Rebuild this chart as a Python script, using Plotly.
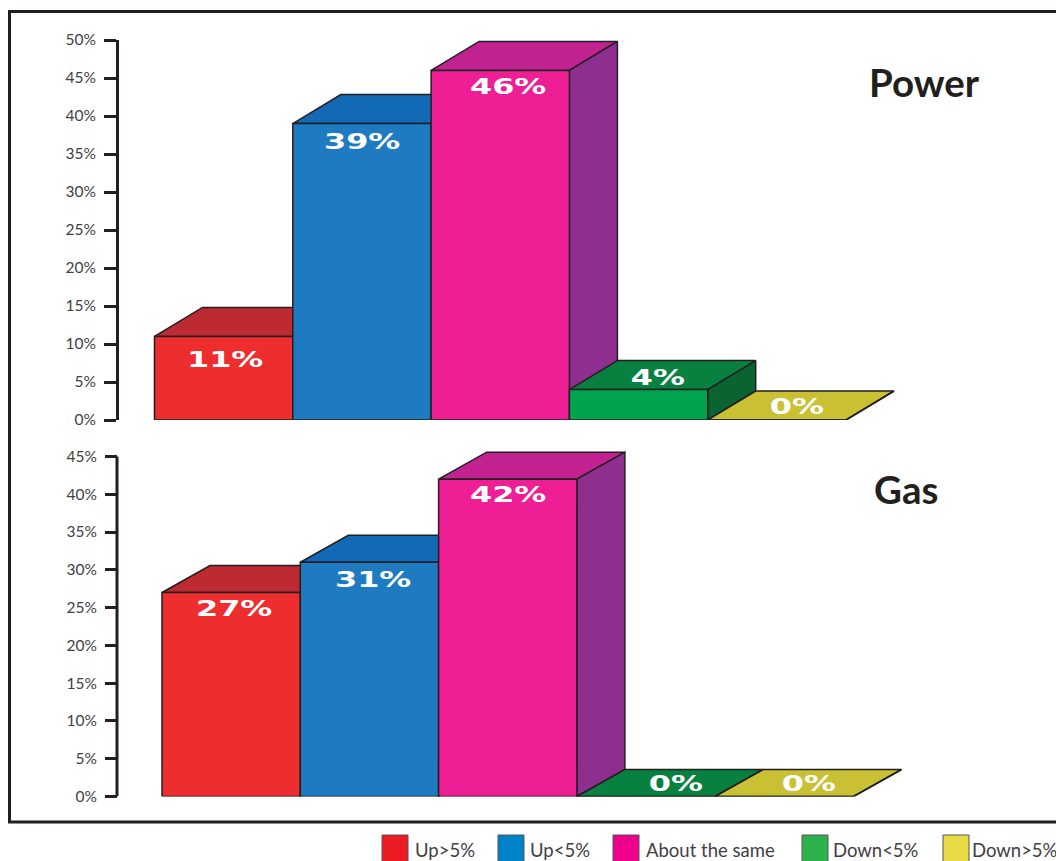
import plotly.graph_objects as go

# Survey responses per sector, in percent
categories = ["Up>5%", "Up<5%", "About the same", "Down<5%", "Down>5%"]
power_values = [11, 39, 46, 4, 0]
gas_values = [27, 31, 42, 0, 0]
power_ticks = [0, 5, 10, 15, 20, 25, 30, 35, 40, 45, 50]
gas_ticks = [0, 5, 10, 15, 20, 25, 30, 35, 40, 45]

WIDTH, HEIGHT = 1056, 861
INK = "#231F20"
TEXT = "#414042"
FONT = "Lato"

front_colors = ["#EE2D2F", "#1F7BC1", "#EE1E95", "#00A34E", "#C9C033"]
top_colors = ["#BE2A32", "#1269B5", "#C2228F", "#08803F", "#C9C033"]
side_colors = ["#A3262B", "#10568F", "#8E2E8F", "#0A6432", "#A8A02B"]
legend_colors = ["#ED1C24", "#0082C8", "#EC008C", "#2BB24C", "#E8DA45"]

# Pixel nudges for the value labels, per panel
power_label_shift = [(1, -24), (0, -18), (8, -17), (0, -3), (0, -2)]
gas_label_shift = [(3, -17), (4, -18), (0, -16), (10, -1), (5, -1)]


def px_x(p):
    return p / WIDTH


def px_y(p):
    return 1 - p / HEIGHT


fig = go.Figure()


def add_face(xs, ys, color, xref, yref):
    fig.add_trace(go.Scatter(
        x=xs + xs[:1], y=ys + ys[:1], mode="lines", fill="toself",
        fillcolor=color, line=dict(color=INK, width=1.5),
        xaxis=xref, yaxis=yref, showlegend=False, hoverinfo="skip",
        cliponaxis=False,
    ))


def add_bars(values, depth_x, depth_y, shifts, xref, yref):
    # Bars run left to right so each one overlaps the side of its neighbour
    for i, v in enumerate(values):
        x0, x1 = i, i + 1
        add_face([x0, x0 + depth_x, x1 + depth_x, x1],
                 [v, v + depth_y, v + depth_y, v], top_colors[i], xref, yref)
        add_face([x1, x1 + depth_x, x1 + depth_x, x1],
                 [v, v + depth_y, depth_y, 0], side_colors[i], xref, yref)
        add_face([x0, x1, x1, x0], [0, 0, v, v], front_colors[i], xref, yref)
        tall = v >= 10
        fig.add_annotation(
            x=i + 0.5 + (0 if tall else depth_x / 2 - 0.03),
            y=v + (0 if tall else depth_y / 2),
            xshift=shifts[i][0], yshift=shifts[i][1],
            text=f"{v}%", showarrow=False, xref=xref, yref=yref,
            xanchor="center", yanchor="middle",
            font=dict(family="DejaVu Sans", size=21, color="white", weight="bold"),
        )


# Bar unit is 138.3 px; axis domains span 117..1000 px
BAR_PX = 138.3
POWER_SCALE = (420 - 40) / 50
GAS_SCALE = (796.5 - 456.5) / 45
# Headroom above the last gas tick keeps the 3D caps inside the plot area
GAS_TOP = 49
gas_top_px = 796.5 - GAS_TOP * GAS_SCALE

add_bars(power_values, 48 / BAR_PX, 29 / POWER_SCALE, power_label_shift, "x", "y")
add_bars(gas_values, 48 / BAR_PX, 27 / GAS_SCALE, gas_label_shift, "x2", "y2")

y_common = dict(
    ticks="outside", ticklen=12, tickwidth=3, tickcolor=INK,
    showgrid=False, zeroline=False,
    tickfont=dict(family=FONT, size=15.5, color=TEXT),
    ticklabelstandoff=5, anchor="free", position=px_x(117),
)
x_common = dict(visible=False, domain=[px_x(117), px_x(1000)])

fig.update_layout(
    width=WIDTH, height=HEIGHT,
    margin=dict(l=0, r=0, t=0, b=0, autoexpand=False),
    autosize=False, paper_bgcolor="white", plot_bgcolor="rgba(0,0,0,0)",
    xaxis=dict(range=[(117 - 154.5) / BAR_PX, (1000 - 154.5) / BAR_PX], anchor="y", **x_common),
    xaxis2=dict(range=[(117 - 162) / BAR_PX, (1000 - 162) / BAR_PX], anchor="y2", **x_common),
    yaxis=dict(range=[0, 50], domain=[px_y(420), px_y(40)], tickvals=power_ticks,
               ticktext=[f"{t}%" for t in power_ticks],
               showline=True, linecolor=INK, linewidth=3, **y_common),
    yaxis2=dict(range=[0, GAS_TOP], domain=[px_y(796.5), px_y(gas_top_px)], tickvals=gas_ticks,
                ticktext=[f"{t}%" for t in gas_ticks], showline=False, **y_common),
)

# Gas axis spine stops at its last tick
fig.add_shape(type="line", xref="x2 domain", yref="y2", x0=0, x1=0,
              y0=gas_ticks[0], y1=gas_ticks[-1], line=dict(color=INK, width=3))

# Outer frame, open past the right edge of the page
fig.add_shape(type="rect", xref="paper", yref="paper", layer="below",
              x0=px_x(9.5), x1=px_x(1070), y0=px_y(822), y1=px_y(11.5),
              line=dict(color=INK, width=3), fillcolor="rgba(0,0,0,0)")

# Panel headings
for text, xc, yc in [("Power", 924, 82), ("Gas", 906, 489)]:
    fig.add_annotation(text=text, xref="paper", yref="paper", x=px_x(xc), y=px_y(yc),
                       xanchor="center", yanchor="middle", showarrow=False,
                       font=dict(family=FONT, size=38.5, color=INK, weight="bold"))

# Legend row along the bottom edge
swatch_left = [382, 498, 613, 802, 943]
label_left = [413, 528, 644, 831, 970]
for name, color, sx, lx in zip(categories, legend_colors, swatch_left, label_left):
    fig.add_shape(type="rect", xref="paper", yref="paper",
                  x0=px_x(sx), x1=px_x(sx + 26), y0=px_y(863), y1=px_y(835),
                  line=dict(color="#555555", width=1), fillcolor=color)
    fig.add_annotation(text=name, xref="paper", yref="paper", x=px_x(lx), y=px_y(849.5),
                       xanchor="left", yanchor="middle", showarrow=False,
                       font=dict(family=FONT, size=18.5, color=TEXT))

# The value labels use a wide face: stretch the glyphs horizontally
stretch = """
document.querySelectorAll('text.annotation-text').forEach(function (t) {
  if (/^\\d+%$/.test(t.textContent) && t.style.fill.indexOf('255') >= 0) {
    t.setAttribute('textLength', t.getComputedTextLength() * 1.52);
    t.setAttribute('lengthAdjust', 'spacingAndGlyphs');
  }
});
"""
fig.write_html("out.html", post_script=stretch)
